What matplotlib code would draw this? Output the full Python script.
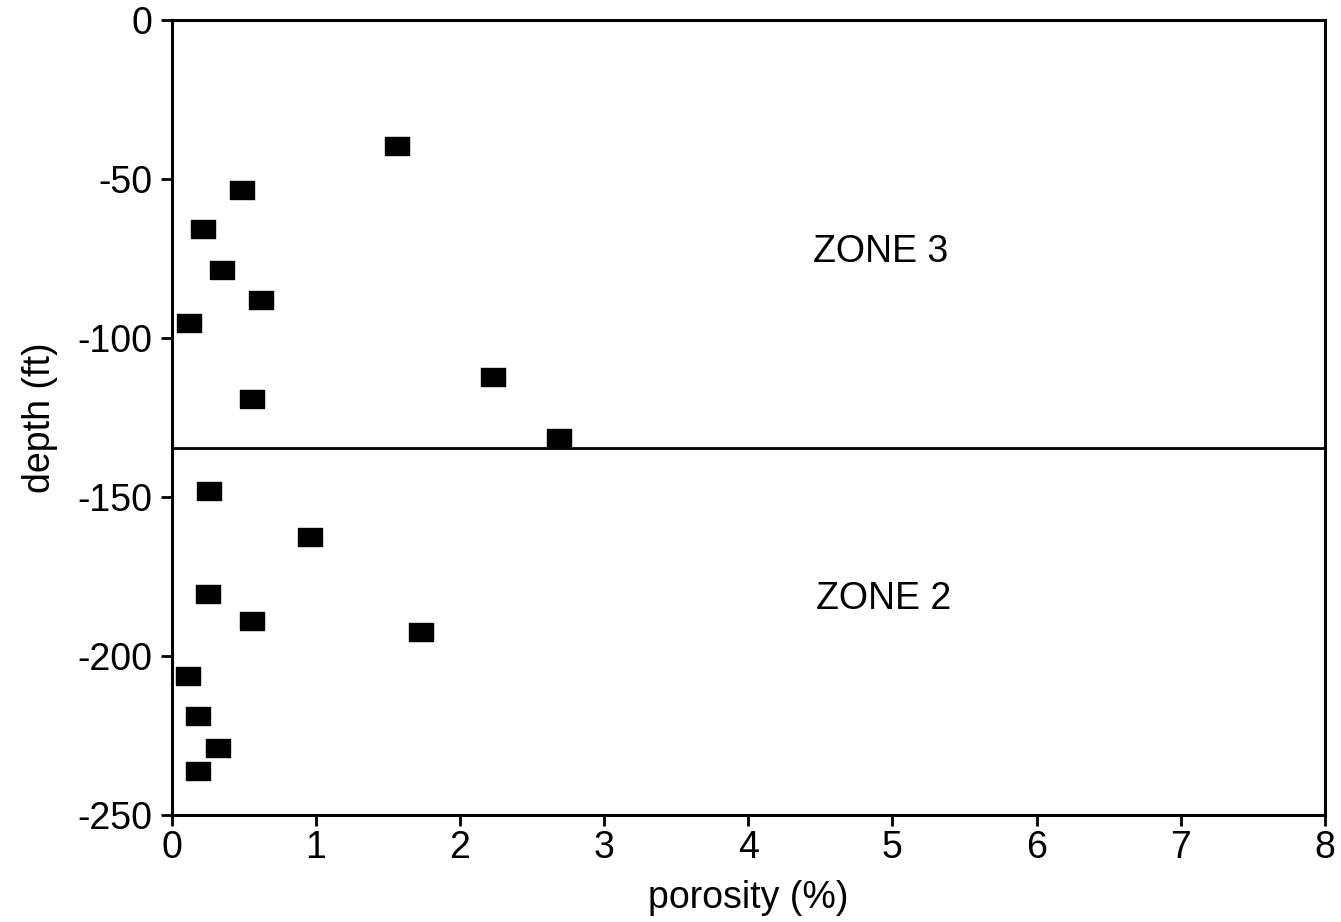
import matplotlib
matplotlib.use('Agg')
from matplotlib import pyplot as plt

porosity = [1.56, 0.49, 0.22, 0.35, 0.62, 0.12, 2.23, 0.56, 2.69,
            0.26, 0.96, 0.25, 0.56, 1.73, 0.11, 0.18, 0.32, 0.18]
depth = [-39.6, -53.5, -65.7, -78.6, -88.0, -95.3, -112.3, -119.2, -131.4,
         -148.0, -162.6, -180.5, -189.0, -192.5, -206.3, -218.9, -229.0, -236.2]
zone_boundary = -134.6
zone_labels = ['ZONE 3', 'ZONE 2']
zone_label_x = [4.45, 4.47]
zone_label_y = [-73, -182]

plt.rcParams['font.family'] = ['Liberation Sans', 'DejaVu Sans']
plt.rcParams['axes.unicode_minus'] = False

fig = plt.figure(figsize=(13.41, 9.22), dpi=100)
ax = fig.add_axes([0.128, 0.116, 0.86, 0.862])

rect = [(-1, -0.78), (1, -0.78), (1, 0.78), (-1, 0.78), (-1, -0.78)]
ax.plot(porosity, depth, linestyle='none', marker=rect, markersize=17,
        color='black', clip_on=False)
ax.axhline(zone_boundary, color='black', linewidth=2)

for lab, x, y in zip(zone_labels, zone_label_x, zone_label_y):
    ax.text(x, y, lab, fontsize=27, va='center', ha='left')

ax.set_xlim(0, 8)
ax.set_ylim(-250, 0)
ax.set_xticks(range(0, 9))
ax.set_yticks([0, -50, -100, -150, -200, -250])
ax.tick_params(direction='out', length=8, width=2, labelsize=27)
ax.tick_params(axis='x', pad=3)
ax.tick_params(axis='y', pad=6)
for s in ax.spines.values():
    s.set_linewidth(2.2)

ax.set_xlabel('porosity (%)', fontsize=27, labelpad=10)
ax.set_ylabel('depth (ft)', fontsize=27, labelpad=14)

fig.savefig('out.png', dpi=100)
